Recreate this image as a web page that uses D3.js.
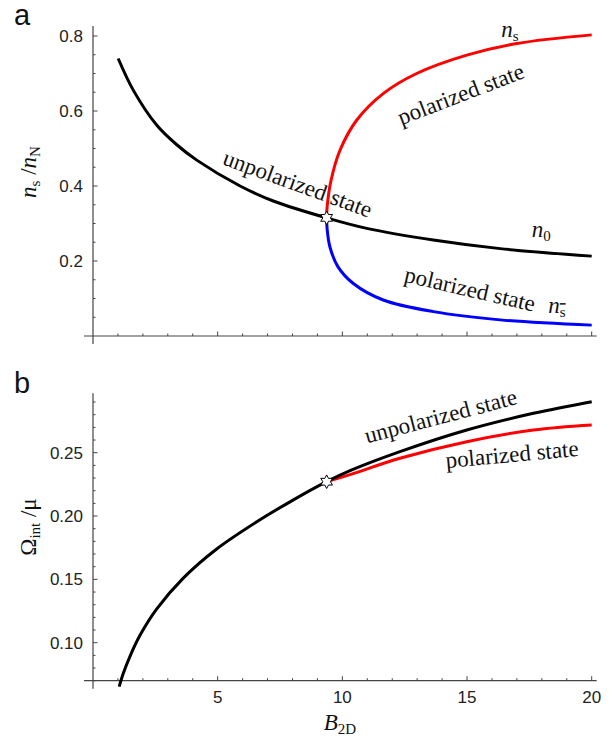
<!DOCTYPE html>
<html>
<head>
<meta charset="utf-8">
<script src="https://cdn.jsdelivr.net/npm/d3@7"></script>
<style>
  body { margin: 0; background: #fff; }
  .tick-label { font-family: "Liberation Sans", Arial, sans-serif; font-size: 17px; fill: #222; }
  .note { font-family: "Liberation Serif", "Times New Roman", serif; font-size: 23px; fill: #111; }
  .panel { font-family: "Liberation Sans", Arial, sans-serif; font-size: 29px; fill: #111; }
  .line { fill: none; stroke-width: 3; stroke-linejoin: round; stroke-linecap: butt; }
</style>
</head>
<body>
<div id="chart"></div>
<script>
// panel a: densities n/nN vs B2D
const n0B = [1.01, 1.62, 2.56, 3.36, 4.16, 5.90, 7.23, 9.37, 10.98, 13.65, 16.33, 20.0];
const n0V = [0.740, 0.655, 0.562, 0.510, 0.469, 0.400, 0.360, 0.315, 0.287, 0.256, 0.233, 0.213];
const nsB = [9.37, 9.39, 9.55, 9.91, 10.58, 11.65, 12.98, 14.99, 17.0, 20.0];
const nsV = [0.315, 0.345, 0.416, 0.496, 0.576, 0.647, 0.700, 0.749, 0.780, 0.803];
const nbarB = [9.37, 9.39, 9.50, 9.82, 10.44, 11.64, 13.65, 16.33, 20.0];
const nbarV = [0.315, 0.285, 0.238, 0.185, 0.140, 0.096, 0.065, 0.043, 0.029];

// panel b: interaction energy vs B2D
const unpolB = [1.05, 1.22, 1.5, 1.89, 2.55, 3.62, 4.96, 6.57, 7.90, 9.37, 10.31, 12.31, 14.99, 17.66, 20.0];
const unpolV = [0.0653, 0.0760, 0.0900, 0.1060, 0.1265, 0.1510, 0.1740, 0.1955, 0.2112, 0.2271, 0.2358, 0.2508, 0.2679, 0.2811, 0.2903];
const polB = [9.37, 10.31, 12.31, 14.99, 17.66, 20.0];
const polV = [0.2271, 0.2327, 0.2456, 0.2587, 0.2679, 0.2719];

// critical point (star)
const critB = 9.37, critA = 0.315, critBv = 0.2271;

const xMajor = [5, 10, 15, 20];
const xMinor = d3.range(1, 21);
const yaMajor = [0.2, 0.4, 0.6, 0.8];
const yaMinor = d3.range(1, 17).map(i => +(i * 0.05).toFixed(2));
const ybMajor = [0.10, 0.15, 0.20, 0.25];
const ybMinor = d3.range(7, 30).map(i => +(i * 0.01).toFixed(2));

const svg = d3.select('#chart').append('svg')
  .attr('width', 612).attr('height', 745);

const x = d3.scaleLinear().domain([0, 20]).range([93, 591.7]);
const ya = d3.scaleLinear().domain([0, 0.8]).range([336, 36]);
const yb = d3.scaleLinear().domain([0.10, 0.25]).range([642.7, 452.7]);

const axisColor = '#444';

function drawAxes(y, x0val, yTop, major, minor, fmt, showX) {
  const ax = x(0), ay = y(x0val);
  // axis lines
  svg.append('line').attr('x1', ax - 9).attr('x2', x(20.2)).attr('y1', ay).attr('y2', ay)
    .attr('stroke', axisColor).attr('stroke-width', 1.2);
  svg.append('line').attr('x1', ax).attr('x2', ax).attr('y1', y(yTop)).attr('y2', ay + 8)
    .attr('stroke', axisColor).attr('stroke-width', 1.2);
  // y ticks (pointing right)
  svg.append('g').selectAll('line').data(minor).join('line')
    .attr('x1', ax).attr('x2', d => ax + (major.some(m => Math.abs(m - d) < 1e-6) ? 4.5 : 2.5))
    .attr('y1', d => y(d)).attr('y2', d => y(d))
    .attr('stroke', axisColor).attr('stroke-width', 1);
  svg.append('g').selectAll('text').data(major).join('text')
    .attr('class', 'tick-label')
    .attr('x', ax - 10).attr('y', d => y(d)).attr('dy', '0.36em')
    .attr('text-anchor', 'end')
    .text(fmt);
  // x ticks (pointing up)
  svg.append('g').selectAll('line').data(xMinor).join('line')
    .attr('x1', d => x(d)).attr('x2', d => x(d))
    .attr('y1', ay).attr('y2', d => ay - (xMajor.includes(d) ? 4.5 : 2.5))
    .attr('stroke', axisColor).attr('stroke-width', 1);
  if (showX) {
    svg.append('g').selectAll('text').data(xMajor).join('text')
      .attr('class', 'tick-label')
      .attr('x', d => x(d)).attr('y', ay + 22)
      .attr('text-anchor', 'middle')
      .text(d => d);
  }
}

drawAxes(ya, 0, 0.827, yaMajor, yaMinor, d3.format('.1f'), false);
drawAxes(yb, 0.07, 0.297, ybMajor, ybMinor, d3.format('.2f'), true);

function curve(y, bs, vs, color) {
  const pts = bs.map((b, i) => [b, vs[i]]);
  svg.append('path')
    .attr('class', 'line')
    .attr('stroke', color)
    .attr('d', d3.line().x(d => x(d[0])).y(d => y(d[1])).curve(d3.curveCatmullRom.alpha(0.5))(pts));
}

curve(ya, n0B, n0V, '#000');
curve(ya, nsB, nsV, '#ff0000');
curve(ya, nbarB, nbarV, '#0000ff');

curve(yb, polB, polV, '#ff0000');
curve(yb, unpolB, unpolV, '#000');

// six-pointed star marker
function star(cx, cy) {
  const pts = d3.range(12).map(i => {
    const r = i % 2 === 0 ? 6.8 : 3.8;
    const a = Math.PI / 6 * i - Math.PI / 2;
    return [cx + r * Math.cos(a), cy + r * Math.sin(a)];
  });
  svg.append('path')
    .attr('d', 'M' + pts.map(p => p.join(',')).join('L') + 'Z')
    .attr('fill', '#fff').attr('stroke', '#000').attr('stroke-width', 1);
}
star(x(critB), ya(critA));
star(x(critB), yb(critBv));

// rotated annotations: [B, value, angle, text]
const notesA = [
  [14.86, 0.626, -21, 'polarized state'],
  [8.1, 0.387, 20, 'unpolarized state'],
  [15.05, 0.105, 13, 'polarized state']
];
const notesB = [
  [14.02, 0.273, -14.7, 'unpolarized state'],
  [16.83, 0.2427, -5.2, 'polarized state']
];

function notes(y, list) {
  list.forEach(d => {
    svg.append('text').attr('class', 'note')
      .attr('text-anchor', 'middle')
      .attr('transform', 'translate(' + x(d[0]) + ',' + y(d[1]) + ') rotate(' + d[2] + ')')
      .text(d[3]);
  });
}
notes(ya, notesA);
notes(yb, notesB);

// curve names: n_s, n_0, n_sbar
function nLabel(b, v, sub, bar) {
  const t = svg.append('text').attr('class', 'note')
    .attr('x', x(b)).attr('y', ya(v));
  t.append('tspan').attr('font-style', 'italic').text('n');
  const s = t.append('tspan').attr('font-size', '15px').attr('dy', 4).text(sub);
  if (bar) s.attr('text-decoration', 'overline');
}
nLabel(16.37, 0.797, 's', false);
nLabel(17.6, 0.265, '0', false);
nLabel(18.26, 0.061, 's', true);

// axis titles
const ta = svg.append('text').attr('class', 'note')
  .attr('transform', 'translate(36,172) rotate(-90)').attr('text-anchor', 'middle');
ta.append('tspan').attr('font-style', 'italic').text('n');
ta.append('tspan').attr('font-size', '15px').attr('dy', 4).text('s');
ta.append('tspan').attr('dy', -4).text(' /');
ta.append('tspan').attr('font-style', 'italic').text('n');
ta.append('tspan').attr('font-size', '15px').attr('dy', 4).text('N');

const tb = svg.append('text').attr('class', 'note')
  .attr('transform', 'translate(36,527) rotate(-90)').attr('text-anchor', 'middle');
tb.append('tspan').text('Ω');
tb.append('tspan').attr('font-size', '15px').attr('dy', 4).text('int');
tb.append('tspan').attr('dy', -4).text(' /μ');

const tx = svg.append('text').attr('class', 'note')
  .attr('x', 340).attr('y', 730).attr('text-anchor', 'middle');
tx.append('tspan').attr('font-style', 'italic').text('B');
tx.append('tspan').attr('font-size', '15px').attr('dy', 4).text('2D');

// panel letters
svg.append('text').attr('class', 'panel').attr('x', 14).attr('y', 25).text('a');
svg.append('text').attr('class', 'panel').attr('x', 14).attr('y', 393).text('b');
</script>
</body>
</html>
